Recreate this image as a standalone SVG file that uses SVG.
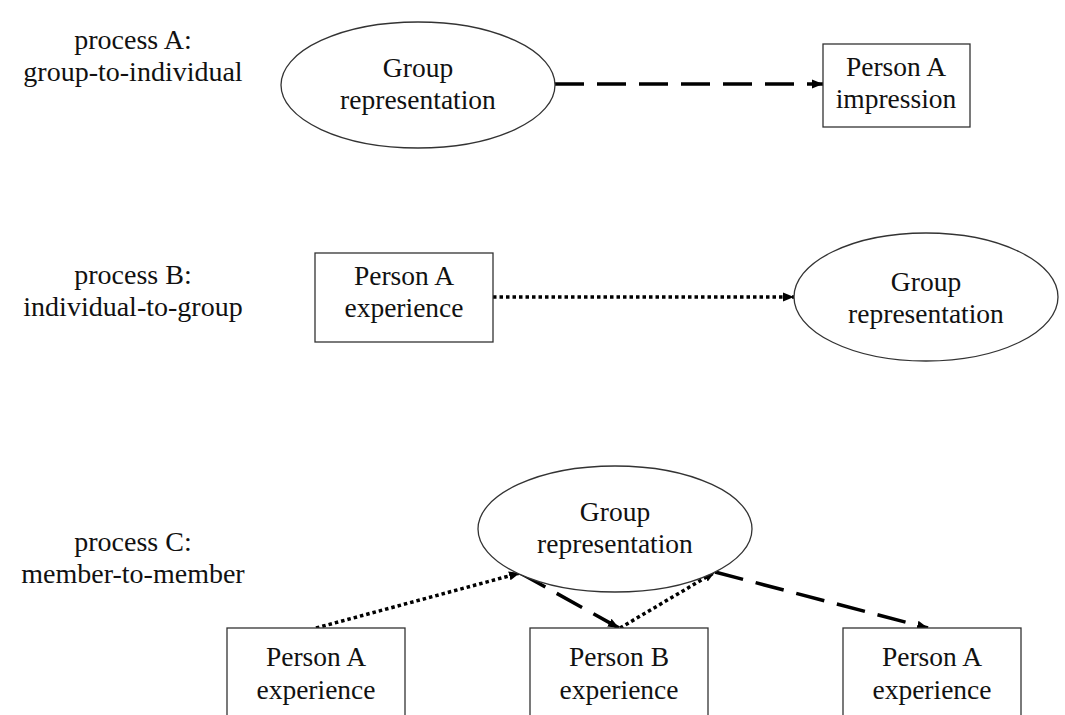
<svg xmlns="http://www.w3.org/2000/svg" width="1065" height="715" viewBox="0 0 1065 715">
  <style>
    text { font-family: "Liberation Serif", "Times New Roman", serif; font-size: 27.5px; fill: #111; text-anchor: middle; }
    .lbl { font-size: 28px; }
    .node { fill: #fff; stroke: #333; stroke-width: 1.3; }
    .dash { fill: none; stroke: #000; stroke-width: 3.5; stroke-dasharray: 29 13; }
    .dot { fill: none; stroke: #000; stroke-width: 3.5; stroke-dasharray: 3.5 3; }
  </style>
  <defs>
    <marker id="ah" markerUnits="userSpaceOnUse" markerWidth="12" markerHeight="12" refX="11" refY="6" orient="auto">
      <path d="M0,1.5 L11,6 L0,10.5 Z" fill="#000"/>
    </marker>
  </defs>
  <rect width="1065" height="715" fill="#fff"/>

  <g id="labels">
    <text class="lbl" x="133" y="49">process A:</text>
    <text class="lbl" x="133" y="81">group-to-individual</text>
    <text class="lbl" x="133" y="284">process B:</text>
    <text class="lbl" x="133" y="316">individual-to-group</text>
    <text class="lbl" x="133" y="551">process C:</text>
    <text class="lbl" x="133" y="583">member-to-member</text>
  </g>

  <g id="connectors">
    <line class="dash" x1="555" y1="84" x2="823" y2="84" marker-end="url(#ah)"/>
    <line class="dot" x1="493" y1="297" x2="794" y2="297" marker-end="url(#ah)"/>
    <line class="dot" x1="316" y1="628" x2="520" y2="573" marker-end="url(#ah)"/>
    <line class="dash" x1="520" y1="573" x2="619" y2="628" marker-end="url(#ah)"/>
    <line class="dot" x1="620" y1="628" x2="715" y2="572" marker-end="url(#ah)"/>
    <line class="dash" x1="715" y1="572" x2="928" y2="628" marker-end="url(#ah)"/>
  </g>

  <g id="nodeA-group">
    <ellipse class="node" cx="418" cy="85" rx="137" ry="63"/>
    <text x="418" y="77">Group</text>
    <text x="418" y="109">representation</text>
  </g>
  <g id="nodeA-person">
    <rect class="node" x="823" y="44" width="147" height="83"/>
    <text x="896" y="76">Person A</text>
    <text x="896" y="108">impression</text>
  </g>

  <g id="nodeB-person">
    <rect class="node" x="315" y="253" width="178" height="89"/>
    <text x="404" y="285">Person A</text>
    <text x="404" y="317">experience</text>
  </g>
  <g id="nodeB-group">
    <ellipse class="node" cx="926" cy="297" rx="132" ry="64"/>
    <text x="926" y="291">Group</text>
    <text x="926" y="323">representation</text>
  </g>

  <g id="nodeC-group">
    <ellipse class="node" cx="615" cy="529" rx="137" ry="63"/>
    <text x="615" y="521">Group</text>
    <text x="615" y="553">representation</text>
  </g>
  <g id="nodeC-personA1">
    <rect class="node" x="227" y="628" width="178" height="100"/>
    <text x="316" y="666">Person A</text>
    <text x="316" y="699">experience</text>
  </g>
  <g id="nodeC-personB">
    <rect class="node" x="530" y="628" width="178" height="100"/>
    <text x="619" y="666">Person B</text>
    <text x="619" y="699">experience</text>
  </g>
  <g id="nodeC-personA2">
    <rect class="node" x="843" y="628" width="178" height="100"/>
    <text x="932" y="666">Person A</text>
    <text x="932" y="699">experience</text>
  </g>
</svg>
